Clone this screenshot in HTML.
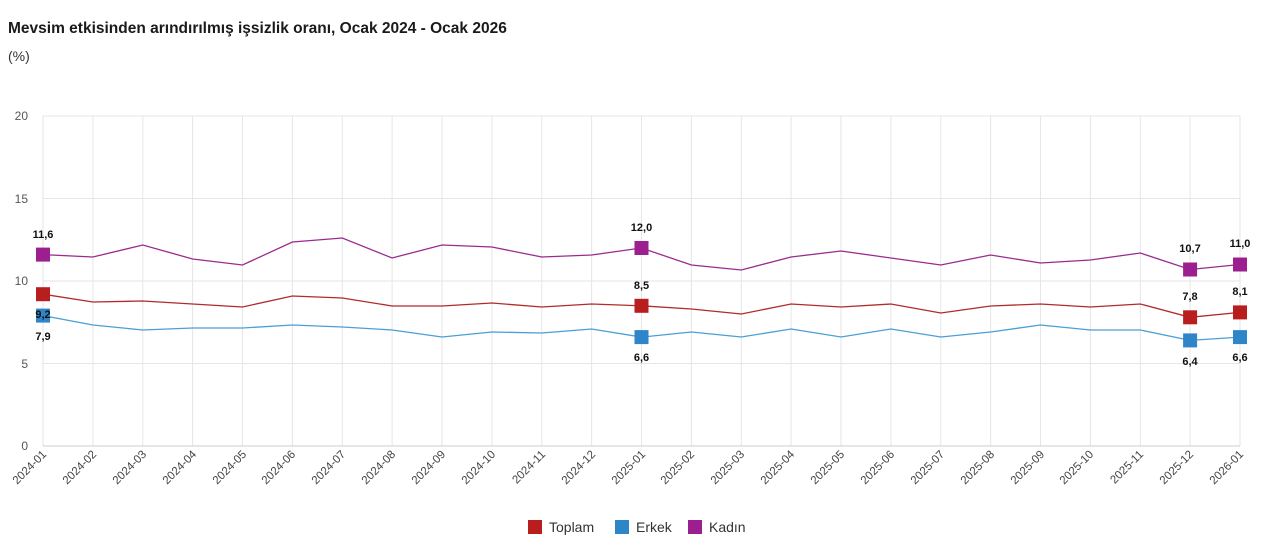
<!DOCTYPE html>
<html><head><meta charset="utf-8"><style>
body{margin:0;background:#fff;width:1280px;height:555px;overflow:hidden;font-family:"Liberation Sans",sans-serif}
</style></head><body>
<svg width="1280" height="555" xmlns="http://www.w3.org/2000/svg" font-family="Liberation Sans, sans-serif">
<text x="8" y="33" font-size="15.5" font-weight="bold" fill="#1a1a1a">Mevsim etkisinden arındırılmış işsizlik oranı, Ocak 2024 - Ocak 2026</text>
<text x="8" y="61" font-size="14" fill="#333">(%)</text>
<g stroke="#e6e6e6" stroke-width="1">
<line x1="43" y1="116" x2="1240" y2="116"/><line x1="43" y1="198.5" x2="1240" y2="198.5"/><line x1="43" y1="281" x2="1240" y2="281"/><line x1="43" y1="363.5" x2="1240" y2="363.5"/>
<line x1="43" y1="116" x2="43" y2="446"/><line x1="92.9" y1="116" x2="92.9" y2="446"/><line x1="142.8" y1="116" x2="142.8" y2="446"/><line x1="192.6" y1="116" x2="192.6" y2="446"/><line x1="242.5" y1="116" x2="242.5" y2="446"/><line x1="292.4" y1="116" x2="292.4" y2="446"/><line x1="342.3" y1="116" x2="342.3" y2="446"/><line x1="392.1" y1="116" x2="392.1" y2="446"/><line x1="442" y1="116" x2="442" y2="446"/><line x1="491.9" y1="116" x2="491.9" y2="446"/><line x1="541.8" y1="116" x2="541.8" y2="446"/><line x1="591.6" y1="116" x2="591.6" y2="446"/><line x1="641.5" y1="116" x2="641.5" y2="446"/><line x1="691.4" y1="116" x2="691.4" y2="446"/><line x1="741.3" y1="116" x2="741.3" y2="446"/><line x1="791.1" y1="116" x2="791.1" y2="446"/><line x1="841" y1="116" x2="841" y2="446"/><line x1="890.9" y1="116" x2="890.9" y2="446"/><line x1="940.8" y1="116" x2="940.8" y2="446"/><line x1="990.6" y1="116" x2="990.6" y2="446"/><line x1="1040.5" y1="116" x2="1040.5" y2="446"/><line x1="1090.4" y1="116" x2="1090.4" y2="446"/><line x1="1140.3" y1="116" x2="1140.3" y2="446"/><line x1="1190.1" y1="116" x2="1190.1" y2="446"/><line x1="1240" y1="116" x2="1240" y2="446"/>
</g>
<line x1="43" y1="446" x2="1240" y2="446" stroke="#ccc"/>
<g font-size="12" fill="#555" text-anchor="end">
<text x="28" y="120">20</text><text x="28" y="203">15</text><text x="28" y="285">10</text><text x="28" y="368">5</text><text x="28" y="450">0</text>
</g>
<g font-size="11.5" fill="#444" text-anchor="end">
<text transform="translate(47,455) rotate(-45)">2024-01</text><text transform="translate(97,455) rotate(-45)">2024-02</text><text transform="translate(147,455) rotate(-45)">2024-03</text><text transform="translate(197,455) rotate(-45)">2024-04</text><text transform="translate(247,455) rotate(-45)">2024-05</text><text transform="translate(296,455) rotate(-45)">2024-06</text><text transform="translate(346,455) rotate(-45)">2024-07</text><text transform="translate(396,455) rotate(-45)">2024-08</text><text transform="translate(446,455) rotate(-45)">2024-09</text><text transform="translate(496,455) rotate(-45)">2024-10</text><text transform="translate(546,455) rotate(-45)">2024-11</text><text transform="translate(596,455) rotate(-45)">2024-12</text><text transform="translate(646,455) rotate(-45)">2025-01</text><text transform="translate(695,455) rotate(-45)">2025-02</text><text transform="translate(745,455) rotate(-45)">2025-03</text><text transform="translate(795,455) rotate(-45)">2025-04</text><text transform="translate(845,455) rotate(-45)">2025-05</text><text transform="translate(895,455) rotate(-45)">2025-06</text><text transform="translate(945,455) rotate(-45)">2025-07</text><text transform="translate(995,455) rotate(-45)">2025-08</text><text transform="translate(1045,455) rotate(-45)">2025-09</text><text transform="translate(1094,455) rotate(-45)">2025-10</text><text transform="translate(1144,455) rotate(-45)">2025-11</text><text transform="translate(1194,455) rotate(-45)">2025-12</text><text transform="translate(1244,455) rotate(-45)">2026-01</text>
</g>
<g fill="none" stroke-width="1.3">
<polyline stroke="#9b2a8f" points="43,254.6 92.9,257 142.8,245 192.6,259 242.5,265 292.4,242 342.3,238 392.1,258 442,245 491.9,247 541.8,257 591.6,255 641.5,248 691.4,265 741.3,270 791.1,257 841,251 890.9,258 940.8,265 990.6,255 1040.5,263 1090.4,260 1140.3,253 1190.1,269.5 1240,264.5"/>
<polyline stroke="#b22a2a" points="43,294.2 92.9,302 142.8,301 192.6,304 242.5,307 292.4,296 342.3,298 392.1,306 442,306 491.9,303 541.8,307 591.6,304 641.5,305.8 691.4,309 741.3,314 791.1,304 841,307 890.9,304 940.8,313 990.6,306 1040.5,304 1090.4,307 1140.3,304 1190.1,317.3 1240,312.4"/>
<polyline stroke="#4a9fd6" points="43,315.6 92.9,325 142.8,330 192.6,328 242.5,328 292.4,325 342.3,327 392.1,330 442,337 491.9,332 541.8,333 591.6,329 641.5,337.1 691.4,332 741.3,337 791.1,329 841,337 890.9,329 940.8,337 990.6,332 1040.5,325 1090.4,330 1140.3,330 1190.1,340.4 1240,337.1"/>
</g>
<g fill="#2e86c8"><rect x="36" y="308.6" width="14" height="14"/><rect x="634.5" y="330.1" width="14" height="14"/><rect x="1183.1" y="333.4" width="14" height="14"/><rect x="1233" y="330.1" width="14" height="14"/></g>
<g fill="#b81e1e"><rect x="36" y="287.2" width="14" height="14"/><rect x="634.5" y="298.8" width="14" height="14"/><rect x="1183.1" y="310.3" width="14" height="14"/><rect x="1233" y="305.4" width="14" height="14"/></g>
<g fill="#9b1f8f"><rect x="36" y="247.6" width="14" height="14"/><rect x="634.5" y="241" width="14" height="14"/><rect x="1183.1" y="262.5" width="14" height="14"/><rect x="1233" y="257.5" width="14" height="14"/></g>
<g font-size="11" font-weight="bold" fill="#111" text-anchor="middle">
<text x="43" y="238">11,6</text><text x="43" y="318">9,2</text><text x="43" y="340">7,9</text>
<text x="641.5" y="231">12,0</text><text x="641.5" y="289">8,5</text><text x="641.5" y="361">6,6</text>
<text x="1190" y="252">10,7</text><text x="1190" y="300">7,8</text><text x="1190" y="365">6,4</text>
<text x="1240" y="247">11,0</text><text x="1240" y="295">8,1</text><text x="1240" y="361">6,6</text>
</g>
<g font-size="14" fill="#333">
<rect x="528" y="520" width="14" height="14" fill="#b81e1e"/><text x="549" y="532">Toplam</text>
<rect x="615" y="520" width="14" height="14" fill="#2e86c8"/><text x="636" y="532">Erkek</text>
<rect x="688" y="520" width="14" height="14" fill="#9b1f8f"/><text x="709" y="532">Kadın</text>
</g>
</svg>
</body></html>
